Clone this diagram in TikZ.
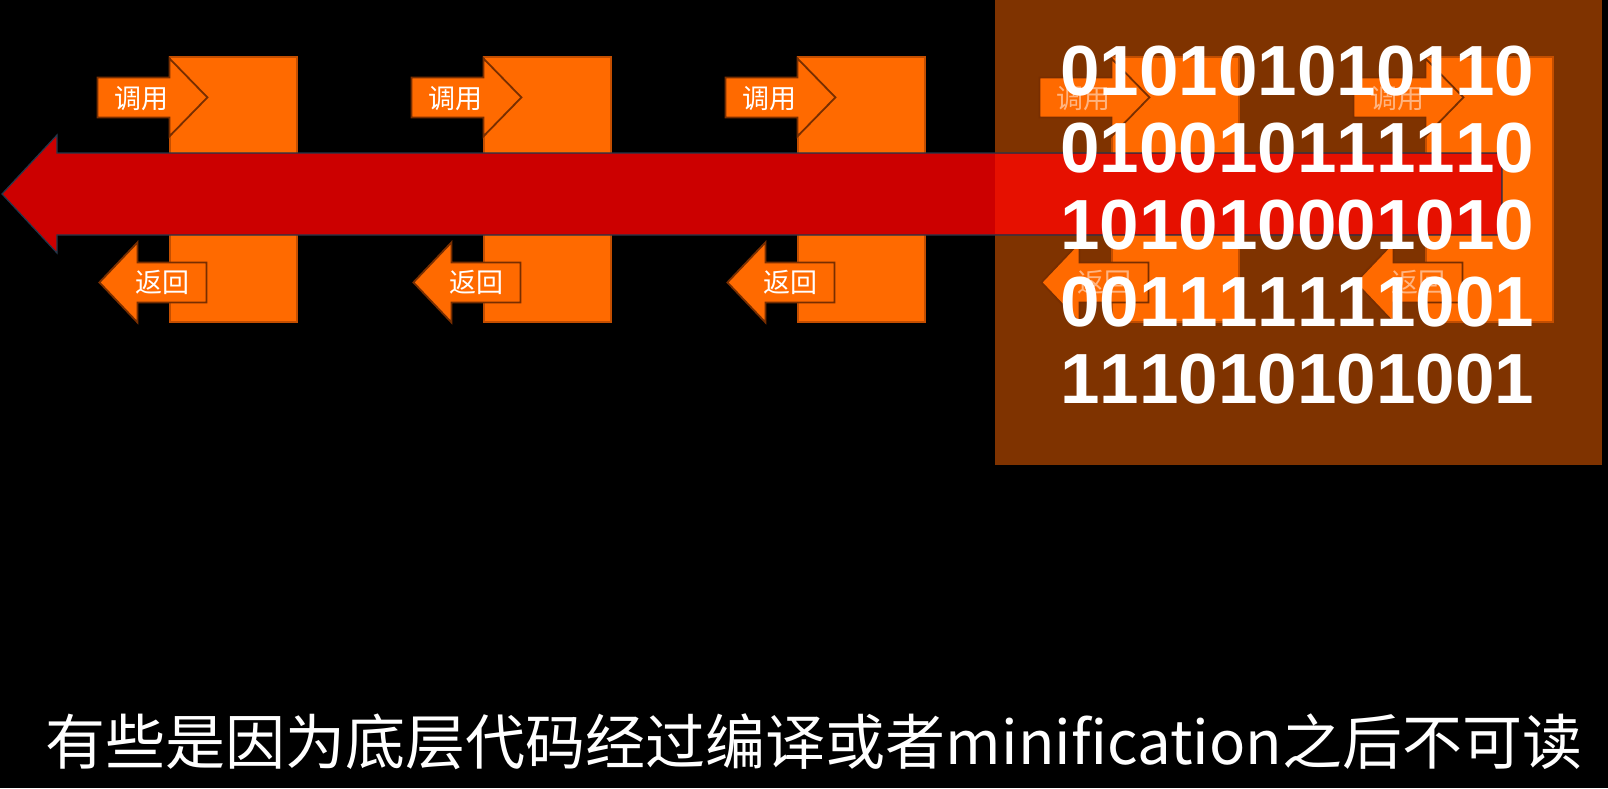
\documentclass[tikz,border=0pt]{standalone}
\usepackage{fontspec}
\newfontfamily\cjk{Noto Sans CJK SC}
\newfontfamily\bitfont[Kerning=Off]{Liberation Sans}
\usetikzlibrary{calc}
\definecolor{boxorange}{RGB}{255,106,0}
\definecolor{boxedge}{RGB}{196,78,0}
\definecolor{arrowedge}{RGB}{120,46,0}
\definecolor{flowred}{RGB}{204,0,0}
\definecolor{flowredhi}{RGB}{230,16,0}
\definecolor{flowedge}{RGB}{35,55,75}
\definecolor{maskbrown}{RGB}{127,51,0}

\begin{document}
\begin{tikzpicture}[x=0.5pt,y=-0.5pt]
\tikzset{
  frame/.style={draw=boxedge,line width=0.6pt,fill=boxorange,minimum width=63.5pt,minimum height=132.5pt,inner sep=0pt},
  callarrow/.style={draw=arrowedge,line width=0.9pt,fill=boxorange,line join=miter},
  tag/.style={text=white,font=\cjk\fontsize{13.5pt}{16pt}\selectfont,inner sep=0pt},
  bits/.style={text=white,font=\bitfont\bfseries\fontsize{35.5pt}{38.5pt}\selectfont,anchor=base west,inner sep=0pt},
  bigarrow/.style={draw=flowedge,line width=0.6pt,fill=flowred,line join=miter}
}
\useasboundingbox (0,0) rectangle (1608,788);
\fill[black] (0,0) rectangle (1608,788);
\fill[maskbrown] (995,0) rectangle (1602,465);
\foreach \i/\op in {0/1,1/1,2/1,3/0.5,4/0.5}{
  \node[frame] (b\i) at (233.5+314*\i,189.5) {};
  \draw[callarrow] ($(b\i.north west)+(-72,21)$) -- ++(72,0) -- ++(0,-19) -- ++(38,39) -- ++(-38,39) -- ++(0,-19) -- ++(-72,0) -- cycle;
  \draw[callarrow] ($(b\i.north west)+(37,206)$) -- ++(-69,0) -- ++(0,-20) -- ++(-38,40) -- ++(38,40) -- ++(0,-20) -- ++(69,0) -- cycle;
  \node[tag,text opacity=\op] (call\i) at ($(b\i.north west)+(-28,42)$) {调用};
  \node[tag,text opacity=\op] (ret\i) at ($(b\i.north west)+(-7,226)$) {返回};
}
\draw[bigarrow] (1502,153) -- (57,153) -- (57,135) -- (2,194) -- (57,253) -- (57,235) -- (1502,235) -- cycle;
\fill[flowredhi] (995,153.8) rectangle (1501.2,234.2);
\foreach \row [count=\k from 0] in {010101010110,010010111110,101010001010,001111111001,111010101001}
  \node[bits] (bits\k) at (1060,95+77*\k) {\row};
\node[text=white,font=\cjk\fontsize{30pt}{36pt}\selectfont,anchor=base,inner sep=0pt] (caption) at (814,764) {有些是因为底层代码经过编译或者minification之后不可读};
\end{tikzpicture}
\end{document}
